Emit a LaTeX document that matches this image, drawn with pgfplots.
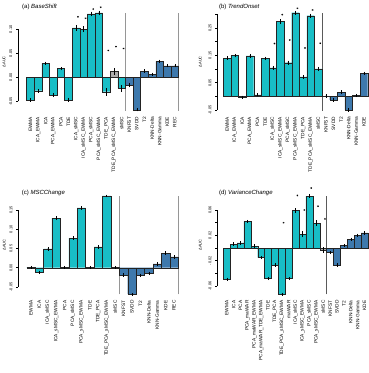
\documentclass[border=0pt]{standalone}
\usepackage{pgfplots}
\pgfplotsset{compat=1.18}
\usepackage{fontspec}
\setmainfont{Liberation Sans}

\definecolor{barcyan}{RGB}{24,190,198}
\definecolor{barblue}{RGB}{62,121,173}
\definecolor{bargray}{RGB}{172,172,172}
\definecolor{barline}{RGB}{35,35,35}
\definecolor{seplight}{RGB}{150,150,150}
\definecolor{sepdark}{RGB}{90,90,90}

\pgfplotsset{
  panel/.style={
    scale only axis, anchor=south west, clip=false,
    axis line style={draw=none},
    xtick pos=lower, ytick pos=left,
    scaled y ticks=false,
    tick align=outside, major tick length=2pt,
    xtick style={draw=none},
    ytick style={black, line width=0.4pt},
    xticklabel style={rotate=90, anchor=east, inner sep=0pt,
      font=\fontsize{4.8}{5}\selectfont},
    xticklabel shift=4pt,
    yticklabel style={rotate=90, anchor=south, inner sep=0pt,
      font=\fontsize{3.9}{4.5}\selectfont},
    yticklabel shift=3.6pt,
    ylabel={ΔAUC},
    ylabel style={font=\fontsize{3.9}{4.5}\selectfont, anchor=center},
    every axis title shift=0pt,
    title style={font=\fontsize{6}{7}\selectfont, anchor=west, inner sep=0pt},
    /pgf/number format/assume math mode=true,
  },
  bars/.style={ybar, bar width=1, bar shift=0pt, draw=barline, line width=0.35pt,
    error bars/y dir=both, error bars/y explicit,
    error bars/error bar style={black, line width=0.4pt},
    error bars/error mark options={black, mark size=1pt, line width=0.4pt}},
  stars/.style={only marks, mark=asterisk, mark size=0.9pt, black, line width=0.3pt},
}

\begin{document}
\begin{tikzpicture}

% ---------------- (a) BaseShift ----------------
\begin{axis}[panel, at={(18pt,262.3pt)}, width=161.4pt, height=98pt,
  xmin=-1.64, xmax=19.6, ymin=-0.0696, ymax=0.1346,
  xtick={0,...,19},
  xticklabels={EWMA, ICA\_EWMA, ICA, PCA\_EWMA, PCA, TDE, ICA\_sMSC, ICA\_sMSC\_EWMA,
    PCA\_sMSC, PCA\_sMSC\_EWMA, TDE\_PCA, TDE\_PCA\_sMSC\_EWMA, sMSC, KNFST, SVDD, T2,
    KNN-Delta, KNN-Gamma, KDE, REC},
  ytick={-0.05,0,0.05,0.10}, yticklabels={-0.05,0.00,0.05,0.10},
  extra x ticks={12.5,19.5}, extra x tick labels={},
  extra x tick style={grid=major, major grid style={seplight, line width=0.9pt}},
  ylabel style={at={(axis description cs:-0.087,0.5)}},
  title={(a) \textit{BaseShift}},
  title style={at={(axis description cs:0.025,1.055)}},
]
\draw[black, line width=0.4pt] (axis cs:-1.64,-0.05) -- (axis cs:-1.64,0.10);
\addplot[bars, fill=barcyan] coordinates {
  (0,-0.047) +- (0,0.002)  (1,-0.028) +- (0,0.002)  (2,0.029) +- (0,0.0015)
  (3,-0.037) +- (0,0.002)  (4,0.018) +- (0,0.0015)  (5,-0.047) +- (0,0.002)
  (6,0.103) +- (0,0.004)   (7,0.100) +- (0,0.004)   (8,0.132) +- (0,0.003)
  (9,0.134) +- (0,0.003)   (10,-0.030) +- (0,0.006) (12,-0.023) +- (0,0.005)};
\addplot[bars, fill=bargray] coordinates {(11,0.012) +- (0,0.005)};
\addplot[bars, fill=barblue] coordinates {
  (13,-0.016) +- (0,0.003) (14,-0.068) +- (0,0.001) (15,0.013) +- (0,0.0015)
  (16,0.006) +- (0,0.0015) (17,0.033) +- (0,0.0015) (18,0.024) +- (0,0.0015)
  (19,0.024) +- (0,0.0015)};
\addplot[stars] coordinates {(6.25,0.126) (7.25,0.123) (8.25,0.142) (9.25,0.146)
  (10.25,0.056) (11.25,0.064) (12.25,0.060)};
\end{axis}

% ---------------- (b) TrendOnset ----------------
\begin{axis}[panel, at={(217.3pt,262.3pt)}, width=150.4pt, height=98pt,
  xmin=-1.29, xmax=18.5, ymin=-0.0527, ymax=0.306,
  xtick={0,...,18},
  xticklabels={EWMA, ICA\_EWMA, ICA, PCA\_EWMA, PCA, TDE, ICA\_sMSC, ICA\_sMSC\_EWMA,
    PCA\_sMSC, PCA\_sMSC\_EWMA, TDE\_PCA, TDE\_PCA\_sMSC\_EWMA, sMSC, KNFST, SVDD, T2,
    KNN-Delta, KNN-Gamma, KDE},
  ytick={-0.05,0,0.05,0.10,0.15,0.20,0.25,0.30},
  yticklabels={-0.05,,0.05,,0.15,,0.25,},
  extra x ticks={12.5}, extra x tick labels={},
  extra x tick style={grid=major, major grid style={sepdark, line width=0.5pt}},
  ylabel style={at={(axis description cs:-0.113,0.5)}},
  title={(b) \textit{TrendOnset}},
  title style={at={(axis description cs:0.011,1.055)}},
]
\draw[black, line width=0.4pt] (axis cs:-1.29,-0.05) -- (axis cs:-1.29,0.30);
\addplot[bars, fill=barcyan] coordinates {
  (0,0.140) +- (0,0.003)  (1,0.149) +- (0,0.003)  (2,-0.003) +- (0,0.002)
  (3,0.148) +- (0,0.003)  (4,0.005) +- (0,0.002)  (5,0.139) +- (0,0.003)
  (6,0.104) +- (0,0.004)  (7,0.274) +- (0,0.004)  (8,0.123) +- (0,0.004)
  (9,0.306) +- (0,0.003)  (10,0.071) +- (0,0.004) (11,0.295) +- (0,0.004)
  (12,0.100) +- (0,0.004)};
\addplot[bars, fill=barblue] coordinates {
  (13,0.001) +- (0,0.002) (14,-0.013) +- (0,0.003) (15,0.015) +- (0,0.003)
  (16,-0.050) +- (0,0.002) (17,0.003) +- (0,0.002) (18,0.085) +- (0,0.002)};
\addplot[stars] coordinates {(6.25,0.193) (7.25,0.299) (8.25,0.206) (9.25,0.322)
  (10.25,0.177) (11.25,0.316) (12.25,0.194)};
\end{axis}

% ---------------- (c) MSCChange ----------------
\begin{axis}[panel, at={(18.3pt,78.7pt)}, width=160.8pt, height=98.3pt,
  xmin=-1.5, xmax=17.6, ymin=-0.0694, ymax=0.187,
  xtick={0,...,17},
  xticklabels={EWMA, ICA, ICA\_sMSC, ICA\_sMSC\_EWMA, PCA, PCA\_sMSC, PCA\_sMSC\_EWMA,
    TDE, TDE\_PCA, TDE\_PCA\_sMSC\_EWMA, sMSC, KNFST, SVDD, T2, KNN-Delta, KNN-Gamma,
    KDE, REC},
  ytick={-0.05,0,0.05,0.10,0.15}, yticklabels={-0.05,0.00,0.05,0.10,0.15},
  extra x ticks={10.5,17.5}, extra x tick labels={},
  extra x tick style={grid=major, major grid style={seplight, line width=0.9pt}},
  ylabel style={at={(axis description cs:-0.087,0.5)}},
  title={(c) \textit{MSCChange}},
  title style={at={(axis description cs:0.021,1.034)}},
]
\draw[black, line width=0.4pt] (axis cs:-1.5,-0.05) -- (axis cs:-1.5,0.15);
\addplot[bars, fill=barcyan] coordinates {
  (0,0.001) +- (0,0.001)  (1,-0.012) +- (0,0.002) (2,0.049) +- (0,0.002)
  (3,0.129) +- (0,0.002)  (4,0.001) +- (0,0.001)  (5,0.077) +- (0,0.002)
  (6,0.156) +- (0,0.002)  (7,0.001) +- (0,0.001)  (8,0.054) +- (0,0.002)
  (9,0.187) +- (0,0.001)  (10,0.001) +- (0,0.001)};
\addplot[bars, fill=barblue] coordinates {
  (11,-0.019) +- (0,0.002) (12,-0.069) +- (0,0.001) (13,-0.020) +- (0,0.002)
  (14,-0.015) +- (0,0.002) (15,0.010) +- (0,0.002)  (16,0.038) +- (0,0.002)
  (17,0.028) +- (0,0.002)};
\end{axis}

% ---------------- (d) VarianceChange ----------------
\begin{axis}[panel, at={(217.3pt,78.7pt)}, width=150.7pt, height=98.3pt,
  xmin=-1.37, xmax=20.5, ymin=-0.0731, ymax=0.0821,
  xtick={0,...,20},
  xticklabels={EWMA, ICA, PCA, PCA\_maWAR, PCA\_maWAR\_EWMA, PCA\_maWAR\_TDE\_EWMA, TDE,
    TDE\_PCA, TDE\_PCA\_sMSC\_EWMA, maWAR, ICA\_sMSC, ICA\_sMSC\_EWMA, PCA\_sMSC,
    PCA\_sMSC\_EWMA, sMSC, KNFST, SVDD, T2, KNN-Delta, KNN-Gamma, KDE},
  ytick={-0.06,-0.04,-0.02,0,0.02,0.04,0.06},
  yticklabels={-0.06,,-0.02,,0.02,,0.06},
  extra x ticks={14.5}, extra x tick labels={},
  extra x tick style={grid=major, major grid style={sepdark, line width=0.5pt}},
  ylabel style={at={(axis description cs:-0.113,0.5)}},
  title={(d) \textit{VarianceChange}},
  title style={at={(axis description cs:0.011,1.034)}},
]
\draw[black, line width=0.4pt] (axis cs:-1.37,-0.06) -- (axis cs:-1.37,0.06);
\addplot[bars, fill=barcyan] coordinates {
  (0,-0.0495) +- (0,0.001) (1,0.0063) +- (0,0.001) (2,0.008) +- (0,0.001)
  (3,0.042) +- (0,0.001)   (4,0.003) +- (0,0.001)  (5,-0.015) +- (0,0.001)
  (6,-0.048) +- (0,0.001)  (7,-0.027) +- (0,0.001) (8,-0.073) +- (0,0.001)
  (9,-0.048) +- (0,0.001)  (10,0.059) +- (0,0.002) (11,0.0216) +- (0,0.003)
  (12,0.082) +- (0,0.001)  (13,0.039) +- (0,0.003)};
\addplot[bars, fill=bargray] coordinates {(14,-0.003) +- (0,0.003)};
\addplot[bars, fill=barblue] coordinates {
  (15,-0.007) +- (0,0.001) (16,-0.027) +- (0,0.001) (17,0.004) +- (0,0.001)
  (18,0.0137) +- (0,0.001) (19,0.020) +- (0,0.001)  (20,0.0237) +- (0,0.001)};
\addplot[stars] coordinates {(8.25,0.040) (10.25,0.083) (11.25,0.060) (12.25,0.0947)
  (13.25,0.066) (14.25,0.046)};
\end{axis}

\pgfresetboundingbox
\path (0pt,0pt) rectangle (368pt,373pt);
\end{tikzpicture}
\end{document}
